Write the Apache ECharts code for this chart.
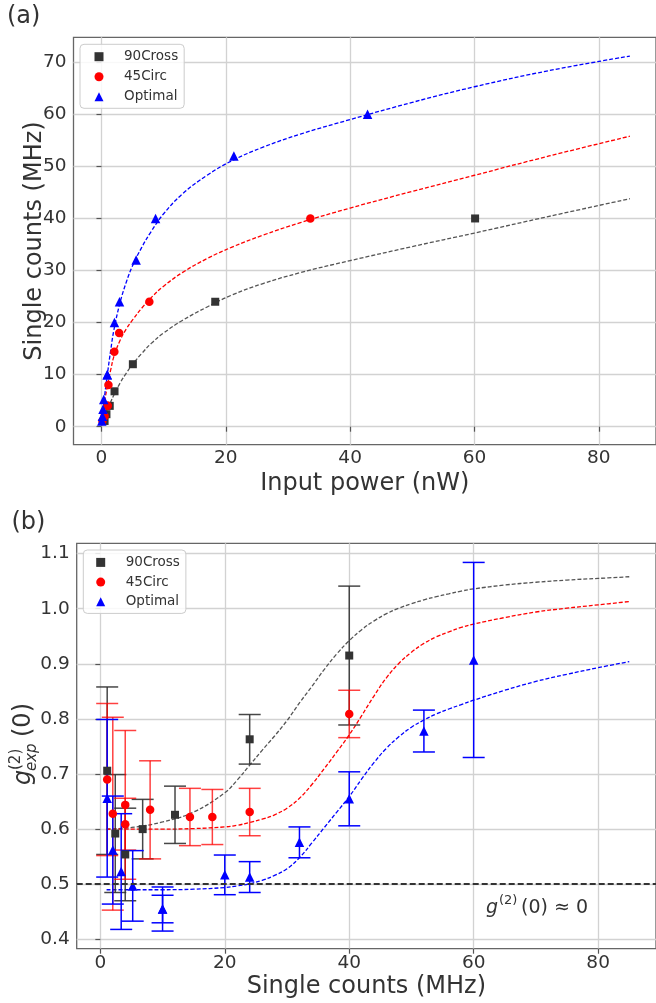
<!DOCTYPE html>
<html><head><meta charset="utf-8">
<script src="https://cdn.jsdelivr.net/npm/echarts@6/dist/echarts.min.js"></script>
<style>html,body{margin:0;padding:0;background:#fff}#c{width:656px;height:1003px}</style>
</head><body><div id="c"></div>
<script>
// ---------- Panel (a): single counts vs input power ----------
const crossPower  = [0.5, 0.8, 1.33, 2.1, 5.05, 18.3, 60.1];
const crossCounts = [1.1, 2.4, 4.0, 6.8, 12.0, 24.0, 40.0];
const circPower   = [0.15, 0.5, 0.95, 1.0, 1.12, 2.07, 2.84, 7.7, 33.6];
const circCounts  = [1.1, 2.0, 4.0, 4.0, 8.0, 14.4, 18.0, 24.0, 40.0];
const optPower    = [0.05, 0.15, 0.25, 0.37, 0.91, 0.95, 2.09, 2.9, 5.57, 8.7, 21.3, 42.8];
const optCounts   = [1.1, 2.0, 3.35, 5.2, 10.0, 10.0, 20.0, 24.0, 32.0, 40.0, 52.0, 60.0];

// fit curves (panel a)
const fitPower  = [0, 0.25, 0.5, 1, 1.5, 2, 3, 4, 5, 6.5, 8, 10, 13, 17, 21, 26, 32, 40, 50, 60, 72, 85];
const crossFitA = [0.3, 1.1, 1.9, 3.4, 4.8, 6.1, 8.4, 10.3, 12.0, 14.1, 16.0, 18.0, 20.4, 23.0, 25.3, 27.5, 29.6, 31.9, 34.6, 37.2, 40.4, 43.8];
const circFitA  = [0.3, 2.6, 4.8, 8.1, 11.0, 13.5, 16.6, 18.8, 20.5, 22.8, 24.8, 27.0, 29.6, 32.3, 34.5, 36.8, 39.2, 42.0, 45.2, 48.3, 52.0, 55.8];
const optFitA   = [0.3, 3.2, 5.9, 10.5, 14.8, 18.6, 23.9, 27.8, 30.9, 34.5, 37.5, 40.9, 44.7, 48.3, 51.1, 53.7, 56.2, 59.0, 62.3, 65.3, 68.4, 71.2];

// ---------- Panel (b): g2 vs single counts ----------
const crossG2  = [0.706, 0.592, 0.554, 0.600, 0.626, 0.763, 0.915];
const crossErr = [0.152, 0.107, 0.084, 0.054, 0.052, 0.045, 0.126];
const circG2   = [0.690, 0.628, 0.644, 0.609, 0.635, 0.622, 0.622, 0.631, 0.809];
const circErr  = [0.138, 0.175, 0.135, 0.047, 0.089, 0.052, 0.050, 0.043, 0.043];
const optG2    = [0.656, 0.562, 0.523, 0.497, 0.455, 0.455, 0.517, 0.513, 0.576, 0.655, 0.778, 0.907];
const optErr   = [0.143, 0.098, 0.105, 0.064, 0.025, 0.040, 0.036, 0.028, 0.028, 0.049, 0.038, 0.177];

const fitCounts = [1, 5, 10, 15, 20, 22, 24, 26, 28, 30, 32, 34, 36, 38, 40, 42, 44, 46, 48, 50, 52, 54, 56, 58, 60, 65, 70, 75, 80, 85];
const crossFitB = [0.600, 0.603, 0.613, 0.631, 0.666, 0.689, 0.716, 0.743, 0.769, 0.797, 0.829, 0.859, 0.890, 0.918, 0.942, 0.962, 0.978, 0.991, 1.001, 1.009, 1.016, 1.022, 1.027, 1.032, 1.036, 1.043, 1.048, 1.052, 1.055, 1.058];
const circFitB  = [0.600, 0.600, 0.600, 0.601, 0.604, 0.607, 0.612, 0.618, 0.626, 0.638, 0.656, 0.681, 0.710, 0.740, 0.771, 0.806, 0.842, 0.875, 0.901, 0.921, 0.937, 0.949, 0.958, 0.966, 0.972, 0.984, 0.994, 1.001, 1.007, 1.013];
const optFitB   = [0.490, 0.490, 0.490, 0.491, 0.494, 0.497, 0.501, 0.507, 0.516, 0.528, 0.548, 0.575, 0.603, 0.631, 0.659, 0.691, 0.721, 0.747, 0.768, 0.785, 0.798, 0.809, 0.818, 0.826, 0.834, 0.852, 0.868, 0.881, 0.893, 0.904];
const g2Level = 0.5;

// tick labels
const xTicks  = [0, 20, 40, 60, 80];
const yTicksA = [0, 10, 20, 30, 40, 50, 60, 70];
const yTicksB = [0.4, 0.5, 0.6, 0.7, 0.8, 0.9, 1.0, 1.1];
const names = ['90Cross', '45Circ', 'Optimal'];

// ---------- styling ----------
const FONT = 'DejaVu Sans';
const TXT = '#333333';
const C_BLACK = '#333333', C_RED = '#ff0000', C_BLUE = '#0000ff';
const zip = (a, b) => a.map((v, i) => [v, b[i]]);

function xAxisDef(gridIndex, min, max, name, gap, margin) {
  return {
    type: 'value', gridIndex, min, max, name, nameLocation: 'middle', nameGap: gap, nameMoveOverlap: false,
    nameTextStyle: {fontSize: 24, color: TXT, fontFamily: FONT},
    axisLine: {show: false},
    axisTick: {show: true, length: 5, customValues: xTicks, lineStyle: {color: '#555', width: 1.2}},
    axisLabel: {customValues: xTicks, fontSize: 18.5, color: TXT, fontFamily: FONT, margin},
    splitLine: {show: true, lineStyle: {color: '#d2d2d2', width: 1.3}}
  };
}
function yAxisDef(gridIndex, min, max, ticks, fmt, name, gap) {
  return {
    type: 'value', gridIndex, min, max, name, nameLocation: 'middle', nameGap: gap, nameMoveOverlap: false,
    nameTextStyle: {fontSize: 24, color: TXT, fontFamily: FONT},
    axisLine: {show: false},
    axisTick: {show: true, length: 5, customValues: ticks, lineStyle: {color: '#555', width: 1.2}},
    axisLabel: {customValues: ticks, fontSize: 18.5, color: TXT, fontFamily: FONT, margin: 7, formatter: fmt},
    splitLine: {show: true, lineStyle: {color: '#d2d2d2', width: 1.3}}
  };
}
function fitLine(name, xi, yi, xs, ys, color) {
  return {type: 'line', name, xAxisIndex: xi, yAxisIndex: yi, data: zip(xs, ys),
    showSymbol: false, symbol: 'none', smooth: 0.4, z: 1, silent: true,
    lineStyle: {color, width: 1.3, type: [4, 2]}};
}
function scatter(name, xi, yi, xs, ys, symbol, size, color) {
  return {type: 'scatter', name, xAxisIndex: xi, yAxisIndex: yi, data: zip(xs, ys),
    symbol, symbolSize: size, itemStyle: {color, opacity: 1}, z: 4};
}
function errorBars(name, xs, ys, es, color, opacity) {
  return {type: 'custom', name, xAxisIndex: 1, yAxisIndex: 1, z: 3, silent: true,
    data: xs.map((x, i) => [x, ys[i] - es[i], ys[i] + es[i]]),
    encode: {x: 0, y: [1, 2]},
    renderItem: function (params, api) {
      const x = api.value(0);
      const lo = api.coord([x, api.value(1)]);
      const hi = api.coord([x, api.value(2)]);
      const st = {stroke: color, lineWidth: 1.5, opacity};
      const cap = 11;
      return {type: 'group', children: [
        {type: 'line', shape: {x1: lo[0], y1: lo[1], x2: hi[0], y2: hi[1]}, style: st},
        {type: 'line', shape: {x1: lo[0] - cap, y1: lo[1], x2: lo[0] + cap, y2: lo[1]}, style: st},
        {type: 'line', shape: {x1: hi[0] - cap, y1: hi[1], x2: hi[0] + cap, y2: hi[1]}, style: st}
      ]};
    }};
}
function legendDef(left, top, padL, gap) {
  return {
    data: names, orient: 'vertical', left, top,
    itemWidth: 9, itemHeight: 9, itemGap: gap,
    padding: [5.4, 6, 4.6, padL],
    textStyle: {fontSize: 13.5, lineHeight: 14, color: TXT, fontFamily: FONT, padding: [0, 0, 0, 15.5]},
    backgroundColor: 'rgba(255,255,255,0.85)', borderColor: '#cccccc', borderWidth: 1, borderRadius: 4,
    selectedMode: false
  };
}

const option = {
  backgroundColor: '#ffffff',
  animation: false,
  grid: [
    {left: 73.5, top: 37.3, right: -4, height: 407.4, show: true, borderColor: '#666', borderWidth: 1.3, backgroundColor: 'transparent'},
    {left: 76.7, top: 543.3, right: -4, height: 405.4, show: true, borderColor: '#666', borderWidth: 1.3, backgroundColor: 'transparent'}
  ],
  xAxis: [
    xAxisDef(0, -4.5, 89.2, 'Input power (nW)', 27, 4.4),
    xAxisDef(1, -3.8, 89.3, 'Single counts (MHz)', 25.6, 5.4)
  ],
  yAxis: [
    yAxisDef(0, -3.46, 74.8, yTicksA, v => String(v), 'Single counts (MHz)', 27),
    yAxisDef(1, 0.383, 1.1187, yTicksB, v => v.toFixed(1), '', 30)
  ],
  legend: [legendDef(80, 44.3, 14.5, 6), legendDef(83.3, 550, 12.9, 5.7)],
  series: [
    fitLine('fitA0', 0, 0, fitPower, crossFitA, '#555555'),
    fitLine('fitA1', 0, 0, fitPower, circFitA, C_RED),
    fitLine('fitA2', 0, 0, fitPower, optFitA, C_BLUE),
    scatter(names[0], 0, 0, crossPower, crossCounts, 'rect', 8, C_BLACK),
    scatter(names[1], 0, 0, circPower, circCounts, 'circle', 8.5, C_RED),
    scatter(names[2], 0, 0, optPower, optCounts, 'triangle', 9.5, C_BLUE),

    fitLine('fitB0', 1, 1, fitCounts, crossFitB, '#555555'),
    fitLine('fitB1', 1, 1, fitCounts, circFitB, C_RED),
    fitLine('fitB2', 1, 1, fitCounts, optFitB, C_BLUE),
    errorBars('errB0', crossCounts, crossG2, crossErr, C_BLACK, 0.9),
    errorBars('errB1', circCounts, circG2, circErr, C_RED, 0.75),
    errorBars('errB2', optCounts, optG2, optErr, C_BLUE, 1),
    scatter(names[0], 1, 1, crossCounts, crossG2, 'rect', 8, C_BLACK),
    scatter(names[1], 1, 1, circCounts, circG2, 'circle', 8.5, C_RED),
    scatter(names[2], 1, 1, optCounts, optG2, 'triangle', 9.5, C_BLUE),
    {type: 'line', name: 'level', xAxisIndex: 1, yAxisIndex: 1, data: [], z: 2, silent: true,
      markLine: {silent: true, symbol: ['none', 'none'], label: {show: false},
        lineStyle: {color: '#333', width: 2, type: [6, 3]}, data: [{yAxis: g2Level}]}}
  ],
  graphic: [
    {type: 'text', x: 7, y: 17, style: {text: '(a)', fontSize: 24, fontFamily: FONT, fill: TXT, align: 'left', verticalAlign: 'middle'}},
    {type: 'text', x: 11.5, y: 523, style: {text: '(b)', fontSize: 24, fontFamily: FONT, fill: TXT, align: 'left', verticalAlign: 'middle'}},
    {type: 'group', x: 24, y: 785, rotation: Math.PI / 2, children: [
      {type: 'text', x: 0, y: 0, style: {text: 'g', fontSize: 24, fontStyle: 'italic', fontFamily: FONT, fill: TXT, align: 'left', verticalAlign: 'middle'}},
      {type: 'text', x: 15, y: -8, style: {text: '(2)', fontSize: 15, fontFamily: FONT, fill: TXT, align: 'left', verticalAlign: 'middle'}},
      {type: 'text', x: 14, y: 8, style: {text: 'exp', fontSize: 15, fontStyle: 'italic', fontFamily: FONT, fill: TXT, align: 'left', verticalAlign: 'middle'}},
      {type: 'text', x: 48, y: 0, style: {text: '(0)', fontSize: 24, fontFamily: FONT, fill: TXT, align: 'left', verticalAlign: 'middle'}}
    ]},
    {type: 'text', x: 486, y: 908, style: {text: 'g', fontSize: 19, fontStyle: 'italic', fontFamily: FONT, fill: TXT, align: 'left', verticalAlign: 'middle'}},
    {type: 'text', x: 499, y: 901, style: {text: '(2)', fontSize: 13, fontFamily: FONT, fill: TXT, align: 'left', verticalAlign: 'middle'}},
    {type: 'text', x: 521, y: 908, style: {text: '(0) ≈ 0', fontSize: 19, fontFamily: FONT, fill: TXT, align: 'left', verticalAlign: 'middle'}}
  ]
};
const chart = echarts.init(document.getElementById('c'), null, {renderer: 'canvas'});
chart.setOption(option);
</script></body></html>
